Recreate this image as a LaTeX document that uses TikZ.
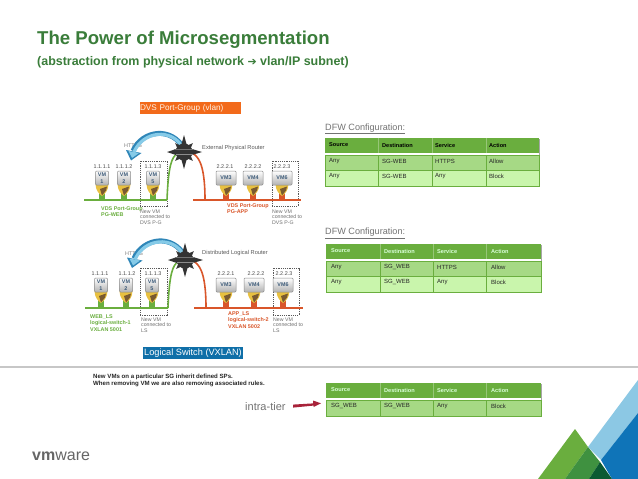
\documentclass[tikz,border=0pt]{standalone}
\usepackage{fontspec}
\setmainfont{Liberation Sans}
\newfontfamily\djv{DejaVu Sans}
\usetikzlibrary{calc}
\definecolor{ttl}{HTML}{3A7D3A}
\definecolor{grn}{HTML}{6AAE3E}
\definecolor{rowa}{HTML}{A6D985}
\definecolor{rowb}{HTML}{C9F5AC}
\definecolor{org}{HTML}{D9562A}
\definecolor{orgbox}{HTML}{F26A1B}
\definecolor{bluebox}{HTML}{0F6FA8}
\definecolor{gtx}{HTML}{6E6E6E}
\definecolor{vmtx}{HTML}{3C5A78}
\definecolor{gold}{HTML}{E8C040}
\definecolor{goldd}{HTML}{7A5A30}
\definecolor{arrd}{HTML}{2F86B8}
\definecolor{arrl}{HTML}{86CBE8}
\definecolor{tlb}{HTML}{8CC8E4}
\definecolor{tdb}{HTML}{0F74B8}
\definecolor{tmg}{HTML}{3F9140}
\definecolor{tdg}{HTML}{0B5A32}
\definecolor{intra}{HTML}{A8233A}
\tikzset{
  fsz/.style={font=\fontsize{#1}{#1}\selectfont},
  lbl/.style={inner sep=0pt,anchor=west,align=left},
  small/.style={lbl,text=gtx,fsz=5.2},
  ip/.style={inner sep=0pt,text=black!70,fsz=5.4},
  vmbox/.style={draw=black!45,line width=.5pt,rounded corners=1pt,top color=white,bottom color=black!30,
     inner sep=0pt,text=vmtx,align=center,font=\fontsize{5.4}{6.4}\selectfont\bfseries},
  dbox/.style={draw=black!65,dash pattern=on 1.2pt off 1pt,line width=.6pt},
  netline/.style={line width=1.6pt},
  cell/.style={inner sep=0pt,anchor=west,fsz=6,text=black!85},
  head/.style={inner sep=0pt,anchor=west,font=\fontsize{5.6}{6}\selectfont\bfseries},
  cfg/.style={inner sep=0pt,anchor=west,text=black!55,fsz=9.1},
  rt/.style={circle,minimum size=18pt,inner sep=0pt}
}
% vm: name, x, y(top of box), width, label, stub colour, line y
\newcommand{\vmicon}[7]{%
  \fill[#6] (#2-3,#3+22) rectangle (#2+3,#7);
  \fill[gold] (#2-6.5,#3+13) -- (#2+6.5,#3+13) .. controls (#2+6.5,#3+19) and (#2+3,#3+23) .. (#2,#3+25)
     .. controls (#2-3,#3+23) and (#2-6.5,#3+19) .. (#2-6.5,#3+13) -- cycle;
  \fill[goldd] (#2-2,#3+18) -- (#2+5,#3+15.5) -- (#2+4,#3+19.5) -- (#2,#3+24.5) -- cycle;
  \node[vmbox,minimum width=#4pt,minimum height=14pt] (#1) at (#2,#3+7) {#5};
}
\begin{document}
\begin{tikzpicture}[x=1pt,y=-1pt]
\useasboundingbox (0,0) rectangle (638,479);
\fill[white] (0,0) rectangle (638,479);

% titles
\node[inner sep=0pt,anchor=west,text=ttl,font=\fontsize{18.6}{20}\selectfont\bfseries] (title) at (37,39.5) {The Power of Microsegmentation};
\node[inner sep=0pt,anchor=west,text=ttl,font=\fontsize{12.45}{14}\selectfont\bfseries] (subtitle) at (37,62) {(abstraction from physical network {\djv\fontsize{11}{12}\selectfont ➔} vlan/IP subnet)};

\node[fill=orgbox,text=white!90!orange,inner sep=0pt,minimum height=12pt,fsz=8.2,text width=101pt,align=left] (dvs) at (190.5,108) {DVS Port-Group (vlan)};
\node[fill=bluebox,text=white,inner sep=0pt,minimum width=100pt,minimum height=12.5pt,fsz=9.2,align=center] (lsw) at (193,353) {Logical Switch (VXLAN)};

% ---------- top network ----------
\node[dbox,minimum width=27pt,minimum height=45pt,inner sep=0pt] (d1) at (153.5,183.5) {};
\node[dbox,minimum width=26pt,minimum height=45pt,inner sep=0pt] (d2) at (285,183.5) {};
\coordinate (wa) at (84,200); \coordinate (wb) at (167,200);
\coordinate (oa) at (193,200); \coordinate (ob) at (301,200); \coordinate (oc) at (205,200);
\node[rt] (r1) at (184,152) {};
\vmicon{v11}{102}{171}{13}{VM\\1}{grn}{200}
\vmicon{v12}{124}{171}{13}{VM\\2}{grn}{200}
\vmicon{v13}{153}{171}{13}{VM\\5}{grn}{200}
\vmicon{v14}{226}{171}{20}{VM3}{org}{200}
\vmicon{v15}{253}{171}{20}{VM4}{org}{200}
\vmicon{v16}{282}{171}{20}{VM6}{org}{200}
\draw[netline,grn] (wa) -- (wb);
\draw[netline,org] (oa) -- (ob);
\draw[netline,grn] (wb) .. controls (168,175) and (170,160) .. (r1.200);
\draw[netline,org] (oc) .. controls (205,172) and (201,158) .. (r1.-10);
\foreach \n/\x/\t in {a/102/1.1.1.1,b/124/1.1.1.2,c/153/1.1.1.3,d/225/2.2.2.1,e/253/2.2.2.2,f/282/2.2.2.3}
  \node[ip] (ipt\n) at (\x,167) {\t};

% ---------- bottom network ----------
\node[dbox,minimum width=27pt,minimum height=47pt,inner sep=0pt] (d3) at (153.5,291.5) {};
\node[dbox,minimum width=26pt,minimum height=47pt,inner sep=0pt] (d4) at (286,291.5) {};
\coordinate (wc) at (85,308); \coordinate (wd) at (168,308);
\coordinate (oe) at (194,308); \coordinate (of) at (303,308); \coordinate (og) at (206,308);
\node[rt] (r2) at (185,260) {};
\vmicon{v21}{101}{278}{13}{VM\\1}{grn}{308}
\vmicon{v22}{126}{278}{13}{VM\\2}{grn}{308}
\vmicon{v23}{152}{278}{13}{VM\\5}{grn}{308}
\vmicon{v24}{226}{278}{20}{VM3}{org}{308}
\vmicon{v25}{254}{278}{20}{VM4}{org}{308}
\vmicon{v26}{283}{278}{20}{VM6}{org}{308}
\draw[netline,grn] (wc) -- (wd);
\draw[netline,org] (oe) -- (of);
\draw[netline,grn] (wd) .. controls (169,283) and (171,268) .. (r2.200);
\draw[netline,org] (og) .. controls (206,280) and (202,266) .. (r2.-10);
\foreach \n/\x/\t in {a/100/1.1.1.1,b/127/1.1.1.2,c/153/1.1.1.3,d/226/2.2.2.1,e/256/2.2.2.2,f/284/2.2.2.3}
  \node[ip] (ipb\n) at (\x,274) {\t};

% HTTPS labels and arrows
\node[ip,text=black!50] (h1) at (133,146) {HTTPS};
\node[ip,text=black!50] (h2) at (134,254) {HTTPS};
\foreach \dx/\dy in {0/0,1/107.5}{
  \begin{scope}[shift={(\dx,\dy)}]
    \draw[line width=5pt,color=arrd] (184,149) .. controls (172,126) and (142,130) .. (133,151);
    \fill[arrd] (126,150) -- (141.5,153) -- (131,160.5) -- cycle;
    \fill[arrl] (128.5,151) -- (139,153) -- (132,158) -- cycle;
    \draw[line width=3.2pt,color=arrl] (183,148) .. controls (172,127.5) and (143,131) .. (134,152);
  \end{scope}
}

% routers
\foreach \r in {r1,r2}{
  \fill[black!80] (\r) circle (8.5);
  \fill[black!80] (\r) ++(-17,0) -- ++(9,-3) -- ++(0,6) -- cycle;
  \fill[black!80] (\r) ++(18,0) -- ++(-10,-3) -- ++(0,6) -- cycle;
  \fill[black!80] (\r) ++(0,-17) -- ++(-2.5,9) -- ++(5,0) -- cycle;
  \fill[black!80] (\r) ++(0,17) -- ++(-2.5,-9) -- ++(5,0) -- cycle;
  \foreach \a in {45,135,225,315}
    \fill[black!80,rotate around={\a:(\r)}] (\r) ++(12.5,0) -- ++(-5,-2) -- ++(0,4) -- cycle;
  \fill[black!55] (\r) ++(-10,-3.5) rectangle ++(20,1.4);
  \fill[black!45] (\r) ++(-8.5,2.2) rectangle ++(17,1.2);
}

% router labels
\node[lbl,text=black!65,fsz=5.7] (t1) at (202,148) {External Physical Router};
\node[lbl,text=black!65,fsz=5.7] (t2) at (202,253) {Distributed Logical Router};

% coloured labels
\node[lbl,text=grn,font=\fontsize{5.4}{6.2}\selectfont\bfseries] (l1) at (101,212) {VDS Port-Group\\PG-WEB};
\node[lbl,text=org,font=\fontsize{5.4}{6.2}\selectfont\bfseries] (l2) at (227,209) {VDS Port-Group\\PG-APP};
\node[lbl,text=grn,font=\fontsize{5.4}{6.2}\selectfont\bfseries] (l3) at (90,323) {WEB\_LS\\logical-switch-1\\VXLAN 5001};
\node[lbl,text=org,font=\fontsize{5.4}{6.2}\selectfont\bfseries] (l4) at (228,320) {APP\_LS\\logical-switch-2\\VXLAN 5002};
\node[small,font=\fontsize{5.2}{5.6}\selectfont] (n1) at (140,217) {New VM\\connected to\\DVS P-G};
\node[small,font=\fontsize{5.2}{5.6}\selectfont] (n2) at (272,217) {New VM\\connected to\\DVS P-G};
\node[small,font=\fontsize{5.2}{5.6}\selectfont] (n3) at (141,325) {New VM\\connected to\\LS};
\node[small,font=\fontsize{5.2}{5.6}\selectfont] (n4) at (273,325) {New VM\\connected to\\LS};

% DFW titles
\node[cfg] (c1) at (325,129) {\underline{DFW Configuration:}};
\node[cfg] (c2) at (325,233.5) {\underline{DFW Configuration:}};

% table 1
\fill[black!35] (325.8,138.8) rectangle (539.8,186.8);
\fill[white] (325,153) rectangle (539,155);
\fill[grn] (325,138) rectangle (539,153);
\fill[rowa] (325,155) rectangle (539,170);
\fill[rowb] (325,170) rectangle (539,186);
\draw[grn,line width=.7pt] (325,155) rectangle (539,186) (325,170.5) -- (539,170.5);
\draw[grn!70!white,line width=.5pt] (378,138) -- (378,153) (432,138) -- (432,153) (486,138) -- (486,153);
\draw[grn,line width=.7pt] (378,155) -- (378,186) (432,155) -- (432,186) (486,155) -- (486,186);
\node[head] (a1) at (329,145) {Source};
\node[head] (a2) at (382,145) {Destination};
\node[head] (a3) at (435,145) {Service};
\node[head] (a4) at (489,145) {Action};
\node[cell] (a5) at (329,161) {Any};
\node[cell] (a6) at (382,161) {SG-WEB};
\node[cell] (a7) at (435,161) {HTTPS};
\node[cell] (a8) at (489,161) {Allow};
\node[cell] (a9) at (329,176) {Any};
\node[cell] (a10) at (382,176) {SG-WEB};
\node[cell] (a11) at (435,176) {Any};
\node[cell] (a12) at (489,176) {Block};

% table 2
\fill[black!35] (326.8,244.8) rectangle (541.8,292.8);
\fill[white] (326,259) rectangle (541,261);
\fill[grn] (326,244) rectangle (541,259);
\fill[rowa] (326,261) rectangle (541,276);
\fill[rowb] (326,276) rectangle (541,292);
\draw[grn,line width=.7pt] (326,261) rectangle (541,292) (326,276.5) -- (541,276.5);
\draw[grn!70!white,line width=.5pt] (380,244) -- (380,259) (433,244) -- (433,259) (486,244) -- (486,259);
\draw[grn,line width=.7pt] (380,261) -- (380,292) (433,261) -- (433,292) (486,261) -- (486,292);
\node[head,text=white!85!green] (b1) at (331,251) {Source};
\node[head,text=white!85!green] (b2) at (384,251) {Destination};
\node[head,text=white!85!green] (b3) at (437,251) {Service};
\node[head,text=white!85!green] (b4) at (491,251) {Action};
\node[cell] (b5) at (331,267) {Any};
\node[cell] (b6) at (384,267) {SG\_WEB};
\node[cell] (b7) at (437,267) {HTTPS};
\node[cell] (b8) at (491,267) {Allow};
\node[cell] (b9) at (331,282) {Any};
\node[cell] (b10) at (384,282) {SG\_WEB};
\node[cell] (b11) at (437,282) {Any};
\node[cell] (b12) at (491,282) {Block};

% separator
\fill[black!22] (0,366) rectangle (638,367.5);

% note
\node[lbl,text=black!85,font=\fontsize{6.1}{7.2}\selectfont\bfseries] (note) at (93,380.5) {New VMs on a particular SG inherit defined SPs.\\When removing VM we are also removing associated rules.};

% table 3
\fill[black!35] (326.8,383.8) rectangle (541.8,416.8);
\fill[white] (326,398) rectangle (541,400);
\fill[grn] (326,383) rectangle (541,398);
\fill[rowa] (326,400) rectangle (541,416);
\draw[grn,line width=.7pt] (326,400) rectangle (541,416);
\draw[grn!70!white,line width=.5pt] (380,383) -- (380,398) (433,383) -- (433,398) (486,383) -- (486,398);
\draw[grn,line width=.7pt] (380,400) -- (380,416) (433,400) -- (433,416) (486,400) -- (486,416);
\node[head,text=white!85!green] (e1) at (331,390) {Source};
\node[head,text=white!85!green] (e2) at (384,390) {Destination};
\node[head,text=white!85!green] (e3) at (437,390) {Service};
\node[head,text=white!85!green] (e4) at (491,390) {Action};
\node[cell] (e5) at (331,406) {SG\_WEB};
\node[cell] (e6) at (384,406) {SG\_WEB};
\node[cell] (e7) at (437,406) {Any};
\node[cell] (e8) at (491,406) {Block};

% intra-tier arrow
\node[inner sep=0pt,anchor=west,text=black!55,fsz=11] (intra) at (245,407) {intra-tier};
\fill[intra] (293,404.6) -- (313,403.4) -- (313,400.5) -- (321,403.3) -- (313.5,407) -- (313.5,405.6) -- (293,407.6) -- cycle;

% logo
\node[inner sep=0pt,anchor=west,text=black!60,fsz=16] (logo) at (32,456) {{\bfseries vm}ware};

% triangles
\fill[tlb] (638,380) -- (588,447) -- (601,460) -- (638,413) -- cycle;
\fill[tdb] (638,413) -- (601,460) -- (612,479) -- (638,479) -- cycle;
\fill[grn] (575,429) -- (538,479) -- (565,479) -- (588,447) -- cycle;
\fill[tmg] (588,447) -- (565,479) -- (589,479) -- (600,462) -- cycle;
\fill[tdg] (600,462) -- (589,479) -- (612,479) -- cycle;
\end{tikzpicture}
\end{document}
